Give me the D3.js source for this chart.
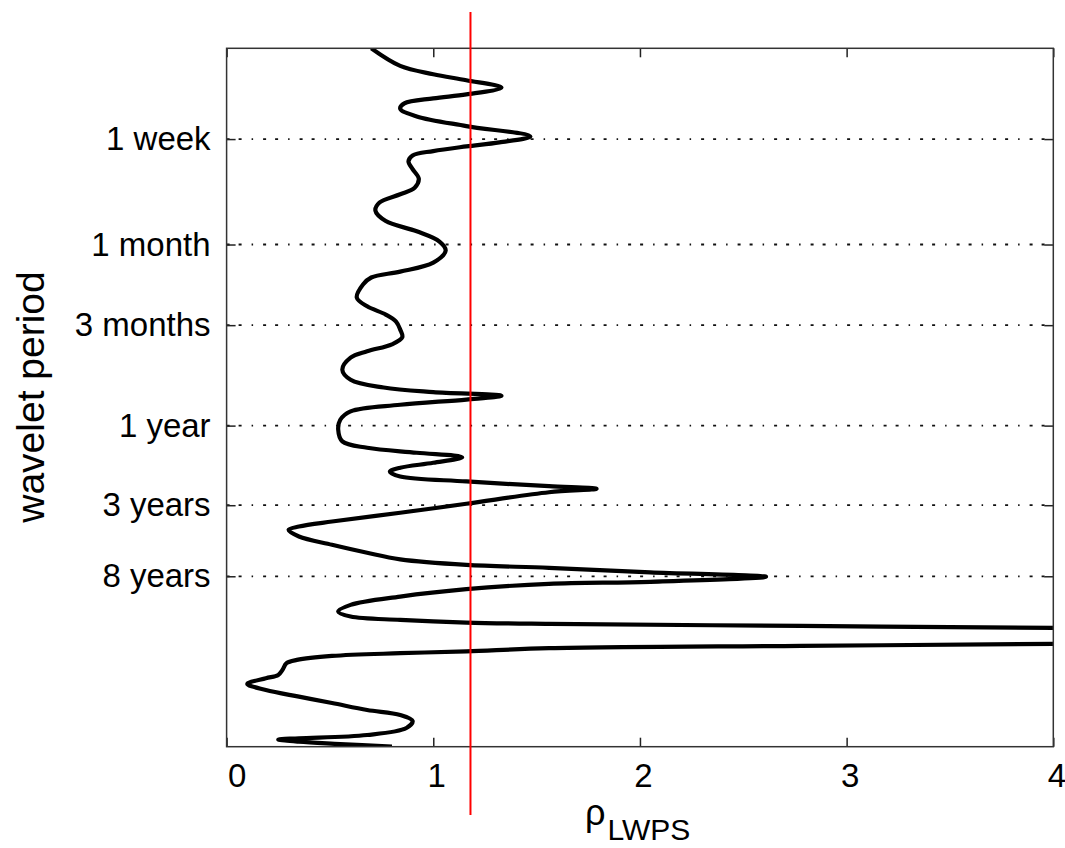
<!DOCTYPE html>
<html>
<head>
<meta charset="utf-8">
<script src="https://cdn.jsdelivr.net/npm/d3@7"></script>
<style>
  body { margin: 0; background: #fff; }
  text { font-family: "Liberation Sans", Arial, sans-serif; fill: #000; }
</style>
</head>
<body>
<script>
// wavelet period (days) along the curve, top to bottom
const periodDays = [2.0, 2.55, 2.86, 3.11, 3.44, 3.78, 3.99, 4.28, 4.60, 5.12,
  5.85, 6.75, 7.33, 7.75, 8.26, 8.77, 9.53, 10.6, 12.1, 13.7,
  15.0, 16.8, 18.8, 21.7, 25.0, 28.8, 32.6, 38.5, 43.6, 47.3,
  52.1, 62.4, 70.4, 78.9, 86.9, 97.1, 108, 119, 131, 143,
  169, 194, 216, 230, 242, 255, 274, 300, 337, 386,
  454, 496, 531, 565, 610, 653, 690, 737, 789, 843,
  873, 916, 1074, 1216, 1372, 1470, 1538, 1687, 1892, 2113,
  2312, 2495, 2600, 2767, 2944, 3155, 3243, 3490, 3866, 4335,
  4755, 5095, 5333, 5536, 5636, 5794, 5957, 6295, 6653, 7031,
  7430, 7638, 7886, 8241, 8449, 8770, 9268, 9700, 10640, 11400,
  11930, 12910, 14030, 15390, 16790, 18490, 19820, 21530, 23710, 26120,
  27340, 27800, 28660, 29580, 30700];

// rho_LWPS at each of those periods
const rho = [0.70, 0.84, 1.00, 1.16, 1.33, 1.16, 1.00, 0.86, 0.84, 0.92,
  1.16, 1.47, 1.32, 1.16, 1.00, 0.90, 0.88, 0.90, 0.93, 0.91,
  0.84, 0.74, 0.72, 0.77, 0.92, 1.03, 1.06, 1.00, 0.84, 0.70,
  0.66, 0.63, 0.68, 0.77, 0.82, 0.84, 0.85, 0.80, 0.68, 0.60,
  0.56, 0.60, 0.76, 1.00, 1.33, 1.16, 0.84, 0.60, 0.55, 0.54,
  0.56, 0.68, 0.92, 1.14, 1.00, 0.84, 0.79, 0.84, 1.16, 1.56,
  1.79, 1.56, 1.16, 0.84, 0.51, 0.35, 0.30, 0.35, 0.51, 0.68,
  0.84, 1.16, 1.56, 2.05, 2.61, 2.05, 1.56, 1.16, 0.84, 0.60,
  0.54, 0.60, 0.84, 1.16, 1.56, 2.78, 4.00, 6.65, 8.6, 6.65,
  4.00, 2.78, 1.56, 1.16, 0.84, 0.51, 0.34, 0.29, 0.27, 0.25,
  0.19, 0.10, 0.19, 0.35, 0.51, 0.68, 0.84, 0.90, 0.87, 0.68,
  0.35, 0.25, 0.35, 0.55, 0.80];

const yTickDays = [7, 30, 91.3, 365.25, 1095.75, 2922];
const yTickLabels = ["1 week", "1 month", "3 months", "1 year", "3 years", "8 years"];
const xTicks = [0, 1, 2, 3, 4];
const threshold = 1.18;

const W = 1065, H = 848;
const pLeft = 226.6, pRight = 1053.3, pTop = 48.3, pBottom = 746.7;

const x = d3.scaleLinear().domain([0, 4]).range([pLeft, pRight]);
const y = d3.scaleLog().domain([2, 30700]).range([pTop, pBottom]);

const svg = d3.select("body").append("svg")
  .attr("width", W)
  .attr("height", H);

svg.append("clipPath").attr("id", "plot")
  .append("rect")
  .attr("x", pLeft).attr("y", pTop)
  .attr("width", pRight - pLeft).attr("height", pBottom - pTop);

// dash-dot grid lines
svg.append("g")
  .selectAll("line")
  .data(yTickDays)
  .enter()
  .append("line")
  .attr("x1", pLeft)
  .attr("x2", pRight)
  .attr("y1", (d) => y(d))
  .attr("y2", (d) => y(d))
  .attr("stroke", "#111")
  .attr("stroke-width", 1.8)
  .attr("stroke-dasharray", "3,9,3,10,1.5,10");

// curve
const pts = periodDays.map((p, i) => [rho[i], p]);
const line = d3.line()
  .x((d) => x(d[0]))
  .y((d) => y(d[1]))
  .curve(d3.curveCatmullRom.alpha(0.5));

svg.append("path")
  .datum(pts)
  .attr("clip-path", "url(#plot)")
  .attr("d", line)
  .attr("fill", "none")
  .attr("stroke", "#000")
  .attr("stroke-width", 4.2)
  .attr("stroke-linejoin", "round");

// axes, ticks pointing inwards
const yFmt = (d) => yTickLabels[yTickDays.indexOf(d)];

const gLeft = svg.append("g")
  .attr("transform", "translate(" + pLeft + ",0)")
  .call(d3.axisLeft(y).tickValues(yTickDays).tickFormat(yFmt).tickSize(-9).tickPadding(16));
gLeft.selectAll("text").attr("font-size", 33).attr("font-family", "Liberation Sans, Arial, sans-serif");

svg.append("g")
  .attr("transform", "translate(" + pRight + ",0)")
  .call(d3.axisRight(y).tickValues(yTickDays).tickFormat("").tickSize(-9));

const gBottom = svg.append("g")
  .attr("transform", "translate(0," + pBottom + ")")
  .call(d3.axisBottom(x).tickValues(xTicks).tickFormat(d3.format("d")).tickSize(-9).tickPadding(17));
gBottom.selectAll("text").attr("font-size", 33).attr("font-family", "Liberation Sans, Arial, sans-serif")
  .attr("dx", (d) => d === 0 ? 10 : 3);

svg.append("g")
  .attr("transform", "translate(0," + pTop + ")")
  .call(d3.axisTop(x).tickValues(xTicks).tickFormat("").tickSize(-9));

svg.selectAll(".domain").remove();
svg.selectAll(".tick line").attr("stroke", "#222").attr("stroke-width", 1.5);

svg.append("rect")
  .attr("x", pLeft).attr("y", pTop)
  .attr("width", pRight - pLeft).attr("height", pBottom - pTop)
  .attr("fill", "none")
  .attr("stroke", "#333")
  .attr("stroke-width", 1.5);

// threshold line
svg.append("line")
  .attr("x1", x(threshold)).attr("x2", x(threshold))
  .attr("y1", 12).attr("y2", 815)
  .attr("stroke", "#ff0000")
  .attr("stroke-width", 2);

// axis titles
svg.append("text")
  .attr("transform", "translate(44,397) rotate(-90)")
  .attr("text-anchor", "middle")
  .attr("font-size", 39)
  .text("wavelet period");

const xt = svg.append("text")
  .attr("x", 585)
  .attr("y", 825)
  .attr("font-size", 36);
xt.append("tspan").text("ρ");
xt.append("tspan").attr("dy", 15).attr("dx", 2).attr("font-size", 30).text("LWPS");
</script>
</body>
</html>
